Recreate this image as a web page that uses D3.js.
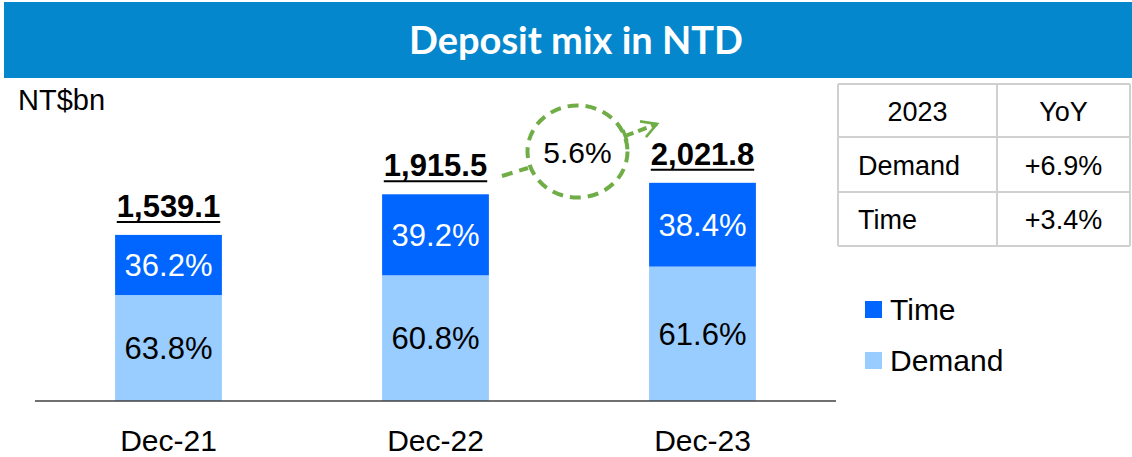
<!DOCTYPE html>
<html>
<head>
<meta charset="utf-8">
<script src="https://cdn.jsdelivr.net/npm/d3@7"></script>
<style>
  html, body { margin: 0; padding: 0; background: #fff; }
  svg { display: block; }
  text { font-family: "Liberation Sans", Arial, sans-serif; }
</style>
</head>
<body>
<svg id="chart" width="1132" height="457"></svg>
<script>
// Deposit mix in NTD, year-end balances (NT$bn) split into demand and time deposits
const categories = ["Dec-21", "Dec-22", "Dec-23"];
const totals = [1539.1, 1915.5, 2021.8];
const demandShare = [63.8, 60.8, 61.6];
const timeShare = [36.2, 39.2, 38.4];
const growthLabel = "5.6%";
const tableHeader = ["2023", "YoY"];
const tableRows = [["Demand", "+6.9%"], ["Time", "+3.4%"]];
const seriesNames = ["Time", "Demand"];
const colors = { Time: "#0066FF", Demand: "#99CCFF" };

const svg = d3.select("#chart");

// Title banner
svg.append("rect").attr("x", 4).attr("y", 2).attr("width", 1128).attr("height", 76).attr("fill", "#0587CD");
svg.append("text")
  .attr("x", 576).attr("y", 54)
  .attr("text-anchor", "middle")
  .attr("fill", "#fff")
  .style("font-family", "Lato, 'Open Sans', sans-serif")
  .style("font-weight", "bold")
  .style("font-size", "38px")
  .text("Deposit mix in NTD");

// Unit label
svg.append("text").attr("x", 18).attr("y", 110).style("font-size", "29px").attr("fill", "#000").text("NT$bn");

// Scales
const baseY = 401;
const x = d3.scaleBand().domain(categories).range([35, 836]).paddingInner(0.6).paddingOuter(0.3);
const y = d3.scaleLinear().domain([0, 2400]).range([baseY, 142]);

// Stack rows built from the arrays
const rows = categories.map((c, i) => ({
  cat: c,
  total: totals[i],
  Demand: totals[i] * demandShare[i] / 100,
  Time: totals[i] * timeShare[i] / 100,
  dPct: demandShare[i],
  tPct: timeShare[i]
}));
const stack = d3.stack().keys(["Demand", "Time"])(rows);

const g = svg.append("g");
stack.forEach(layer => {
  g.selectAll(null).data(layer).enter().append("rect")
    .attr("x", d => x(d.data.cat))
    .attr("width", x.bandwidth())
    .attr("y", d => y(d[1]))
    .attr("height", d => y(d[0]) - y(d[1]))
    .attr("fill", colors[layer.key]);
});

// Segment percentage labels
stack.forEach(layer => {
  g.selectAll(null).data(layer).enter().append("text")
    .attr("x", d => x(d.data.cat) + x.bandwidth() / 2)
    .attr("y", d => (y(d[0]) + y(d[1])) / 2 + 11)
    .attr("text-anchor", "middle")
    .style("font-size", "31px")
    .attr("fill", layer.key === "Time" ? "#fff" : "#000")
    .text(d => (layer.key === "Time" ? d.data.tPct : d.data.dPct).toFixed(1) + "%");
});

// Axis baseline
svg.append("line").attr("x1", 35).attr("x2", 836).attr("y1", baseY).attr("y2", baseY)
  .attr("stroke", "#404040").attr("stroke-width", 1.5);

// Category labels
const xAxis = d3.axisBottom(x).tickSize(0).tickPadding(0);
const ax = svg.append("g").attr("transform", `translate(0,${baseY})`).call(xAxis);
ax.select(".domain").remove();
ax.selectAll("text")
  .attr("dy", 0).attr("y", 50)
  .style("font-size", "30px")
  .style("font-family", "'Liberation Sans', Arial, sans-serif")
  .attr("fill", "#000");

// Total labels, bold and underlined
const fmt = d3.format(",.1f");
rows.forEach(r => {
  const cx = x(r.cat) + x.bandwidth() / 2;
  const ty = y(r.total) - 18;
  const t = svg.append("text")
    .attr("x", cx).attr("y", ty)
    .attr("text-anchor", "middle")
    .style("font-size", "31px").style("font-weight", "bold")
    .attr("fill", "#000")
    .text(fmt(r.total));
  const w = t.node().getComputedTextLength();
  svg.append("line")
    .attr("x1", cx - w / 2).attr("x2", cx + w / 2)
    .attr("y1", ty + 5).attr("y2", ty + 5)
    .attr("stroke", "#000").attr("stroke-width", 2);
});

// Growth annotation: dashed circle with arrow from Dec-22 to Dec-23 total
const green = "#70AD47";
const defs = svg.append("defs");
defs.append("marker").attr("id", "arrow")
  .attr("viewBox", "0 0 10 10").attr("refX", 8.5).attr("refY", 5)
  .attr("markerWidth", 5).attr("markerHeight", 5).attr("orient", "auto")
  .append("path").attr("d", "M1,0.8 L8.5,5 L1,9.2")
  .attr("fill", "none").attr("stroke", green).attr("stroke-width", 1.3);

const ccx = 577.5, ccy = 151.5;
svg.append("ellipse").attr("cx", ccx).attr("cy", ccy).attr("rx", 50).attr("ry", 46)
  .attr("fill", "none").attr("stroke", green).attr("stroke-width", 4)
  .attr("stroke-dasharray", "11,7");
svg.append("line").attr("x1", 502).attr("y1", 176).attr("x2", 528).attr("y2", 168)
  .attr("stroke", green).attr("stroke-width", 4).attr("stroke-dasharray", "11,7");
svg.append("line").attr("x1", 625).attr("y1", 136).attr("x2", 657).attr("y2", 124)
  .attr("stroke", green).attr("stroke-width", 4).attr("stroke-dasharray", "9,5")
  .attr("marker-end", "url(#arrow)");
// small cross-tick where the arrow leaves the circle
svg.append("line").attr("x1", 623).attr("y1", 130).attr("x2", 627).attr("y2", 141)
  .attr("stroke", green).attr("stroke-width", 3.5);
svg.append("text").attr("x", ccx).attr("y", ccy + 11).attr("text-anchor", "middle")
  .style("font-size", "30px").attr("fill", "#000").text(growthLabel);

// YoY table
const tx = [838, 997, 1130];
const ty = [84, 137, 192, 246];
const tg = svg.append("g");
const allRows = [tableHeader].concat(tableRows);
tx.forEach(v => tg.append("line").attr("x1", v).attr("x2", v).attr("y1", ty[0]).attr("y2", ty[3])
  .attr("stroke", "#d0d0d0").attr("stroke-width", 2));
ty.forEach(v => tg.append("line").attr("x1", tx[0]).attr("x2", tx[2]).attr("y1", v).attr("y2", v)
  .attr("stroke", "#d0d0d0").attr("stroke-width", 2));
allRows.forEach((r, i) => {
  r.forEach((cell, j) => {
    const leftAligned = i > 0 && j === 0;
    tg.append("text")
      .attr("x", leftAligned ? tx[0] + 20 : (tx[j] + tx[j + 1]) / 2)
      .attr("y", (ty[i] + ty[i + 1]) / 2 + 10)
      .attr("text-anchor", leftAligned ? "start" : "middle")
      .style("font-size", "27px").attr("fill", "#000")
      .text(cell);
  });
});

// Legend
seriesNames.forEach((s, i) => {
  const ly = 309 + i * 51;
  svg.append("rect").attr("x", 865).attr("y", ly - 8).attr("width", 17).attr("height", 17).attr("fill", colors[s]);
  svg.append("text").attr("x", 890).attr("y", ly + 11).style("font-size", "30px").attr("fill", "#000").text(s);
});
</script>
</body>
</html>
